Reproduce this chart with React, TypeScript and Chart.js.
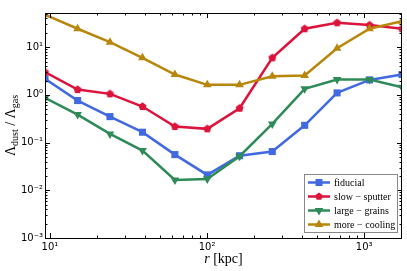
import React, { useEffect, useRef } from 'react';
import { Chart, registerables } from 'chart.js';

Chart.register(...registerables);

// ---- data ----
const radii = [9.3, 15.0, 24.1, 38.8, 62.4, 100.3, 161, 260, 418, 672, 1081, 1740];
const fiducial = [2.17, 0.76, 0.35, 0.165, 0.056, 0.021, 0.053, 0.065, 0.23, 1.1, 2.06, 2.67];
const slowSputter = [2.99, 1.29, 1.05, 0.57, 0.217, 0.194, 0.525, 5.97, 24.3, 32.4, 29.0, 24.3];
const largeGrains = [0.865, 0.386, 0.152, 0.068, 0.0165, 0.0173, 0.0517, 0.246, 1.34, 2.1, 2.1, 1.45];
const moreCooling = [48, 24.3, 12.7, 5.97, 2.67, 1.62, 1.62, 2.46, 2.55, 9.5, 24.3, 35.1];
const seriesNames = ['fiducial', 'slow − sputter', 'large − grains', 'more − cooling'];
const seriesColors = ['#4169E1', '#DC143C', '#2E8B57', '#B8860B'];
const xTickLabels: Record<string, string> = { '1': '10¹', '2': '10²', '3': '10³' };
const yTickLabels: Record<string, string> = { '-3': '10⁻³', '-2': '10⁻²', '-1': '10⁻¹', '0': '10⁰', '1': '10¹' };
const xRange = [radii[0], radii[radii.length - 1]];
const yRange = [0.001, 52];

function makePentagon(color: string, r: number) {
  const c = document.createElement('canvas');
  const s = Math.ceil(r * 2 + 2);
  c.width = s;
  c.height = s;
  const ctx = c.getContext('2d')!;
  ctx.beginPath();
  for (let i = 0; i < 5; i++) {
    const a = -Math.PI / 2 + (i * 2 * Math.PI) / 5;
    const px = s / 2 + r * Math.cos(a);
    const py = s / 2 + r * Math.sin(a);
    if (i === 0) ctx.moveTo(px, py);
    else ctx.lineTo(px, py);
  }
  ctx.closePath();
  ctx.fillStyle = color;
  ctx.fill();
  return c;
}

function isPow10(v: number) {
  const l = Math.log10(v);
  return Math.abs(l - Math.round(l)) < 1e-6;
}

function drawMarker(ctx: CanvasRenderingContext2D, kind: number, x: number, y: number, color: string) {
  ctx.fillStyle = color;
  ctx.beginPath();
  if (kind === 0) {
    ctx.rect(x - 3.5, y - 3.5, 7, 7);
  } else if (kind === 1) {
    for (let i = 0; i < 5; i++) {
      const a = -Math.PI / 2 + (i * 2 * Math.PI) / 5;
      const px = x + 4 * Math.cos(a);
      const py = y + 4 * Math.sin(a);
      if (i === 0) ctx.moveTo(px, py);
      else ctx.lineTo(px, py);
    }
  } else if (kind === 2) {
    ctx.moveTo(x - 4.3, y - 2.5);
    ctx.lineTo(x + 4.3, y - 2.5);
    ctx.lineTo(x, y + 5);
  } else {
    ctx.moveTo(x - 4.3, y + 2.5);
    ctx.lineTo(x + 4.3, y + 2.5);
    ctx.lineTo(x, y - 5);
  }
  ctx.closePath();
  ctx.fill();
}

const framePlugin = {
  id: 'framePlugin',
  afterDraw(chart: any) {
    const { ctx, chartArea } = chart;
    const { left, right, top, bottom } = chartArea;
    const xs = chart.scales.x;
    const ys = chart.scales.y;
    ctx.save();
    ctx.strokeStyle = '#000';
    ctx.lineWidth = 1;
    // ticks
    const tickVals = (min: number, max: number) => {
      const out: { v: number; major: boolean }[] = [];
      for (let d = Math.floor(Math.log10(min)); d <= Math.ceil(Math.log10(max)); d++) {
        for (let m = 1; m <= 9; m++) {
          const v = m * Math.pow(10, d);
          if (v >= min * 0.9999 && v <= max * 1.0001) out.push({ v, major: m === 1 });
        }
      }
      return out;
    };
    ctx.beginPath();
    for (const t of tickVals(xs.min, xs.max)) {
      const px = Math.round(xs.getPixelForValue(t.v)) + 0.5;
      const L = t.major ? 5 : 2.5;
      ctx.moveTo(px, bottom);
      ctx.lineTo(px, bottom - L);
      ctx.moveTo(px, top);
      ctx.lineTo(px, top + L);
    }
    for (const t of tickVals(ys.min, ys.max)) {
      const py = Math.round(ys.getPixelForValue(t.v)) + 0.5;
      const L = t.major ? 5 : 2.5;
      ctx.moveTo(left, py);
      ctx.lineTo(left + L, py);
      ctx.moveTo(right, py);
      ctx.lineTo(right - L, py);
    }
    ctx.stroke();
    ctx.strokeRect(Math.round(left) + 0.5, Math.round(top) + 0.5, Math.round(right - left) - 1, Math.round(bottom - top));

    // x title
    ctx.fillStyle = '#000';
    ctx.textBaseline = 'alphabetic';
    const xMain = '14px "Liberation Serif"';
    ctx.font = 'italic ' + xMain;
    const wr = ctx.measureText('r').width;
    ctx.font = xMain;
    const rest = ' [kpc]';
    const wrest = ctx.measureText(rest).width;
    const cx = (left + right) / 2;
    const bx = cx - (wr + wrest) / 2;
    ctx.font = 'italic ' + xMain;
    ctx.fillText('r', bx, 263);
    ctx.font = xMain;
    ctx.fillText(rest, bx + wr, 263);

    // y title with subscripts
    const parts = [
      { t: 'Λ', f: '14px "Liberation Serif"', dy: 0 },
      { t: 'dust', f: '10px "Liberation Serif"', dy: 3 },
      { t: ' / ', f: '14px "Liberation Serif"', dy: 0 },
      { t: 'Λ', f: '14px "Liberation Serif"', dy: 0 },
      { t: 'gas', f: '10px "Liberation Serif"', dy: 3 },
    ];
    let total = 0;
    const widths = parts.map((p) => {
      ctx.font = p.f;
      const w = ctx.measureText(p.t).width;
      total += w;
      return w;
    });
    ctx.translate(15, (top + bottom) / 2);
    ctx.rotate(-Math.PI / 2);
    let px = -total / 2;
    parts.forEach((p, i) => {
      ctx.font = p.f;
      ctx.fillText(p.t, px, p.dy);
      px += widths[i];
    });
    ctx.restore();

    // legend
    ctx.save();
    const lx = 304, ly = 174, lw = 93, lh = 58;
    ctx.fillStyle = '#fff';
    ctx.fillRect(lx, ly, lw, lh);
    ctx.strokeStyle = '#888';
    ctx.lineWidth = 1;
    ctx.strokeRect(lx + 0.5, ly + 0.5, lw, lh);
    ctx.font = '10px "Liberation Serif"';
    ctx.textBaseline = 'middle';
    seriesNames.forEach((name, i) => {
      const yy = ly + 8.5 + i * 14;
      ctx.strokeStyle = seriesColors[i];
      ctx.lineWidth = 2.5;
      ctx.beginPath();
      ctx.moveTo(lx + 4, yy);
      ctx.lineTo(lx + 26, yy);
      ctx.stroke();
      drawMarker(ctx, i, lx + 15, yy, seriesColors[i]);
      ctx.fillStyle = '#000';
      ctx.fillText(name, lx + 30, yy + 0.5);
    });
    ctx.restore();
  },
};

export default function App() {
  const ref = useRef<HTMLCanvasElement>(null);
  useEffect(() => {
    document.body.style.margin = '0';
    const pent = makePentagon(seriesColors[1], 4.2);
    const mk = (vals: number[]) => radii.map((r, i) => ({ x: r, y: vals[i] }));
    const allVals = [fiducial, slowSputter, largeGrains, moreCooling];
    const styles: any[] = ['rect', pent, 'triangle', 'triangle'];
    const rots = [0, 0, 180, 0];
    const radiiPt = [5, 4, 5, 5];
    const chart = new Chart(ref.current!, {
      type: 'line',
      data: {
        datasets: allVals.map((vals, i) => ({
          label: seriesNames[i],
          data: mk(vals),
          borderColor: seriesColors[i],
          backgroundColor: seriesColors[i],
          borderWidth: 2.5,
          pointStyle: styles[i],
          pointRotation: rots[i],
          pointRadius: radiiPt[i],
          pointBorderWidth: 0,
          pointBackgroundColor: seriesColors[i],
          pointBorderColor: seriesColors[i],
          tension: 0,
          clip: 0,
          order: 4 - i,
        })),
      },
      options: {
        animation: false,
        responsive: false,
        devicePixelRatio: 1,
        layout: { padding: { left: 0, top: 13, right: 4, bottom: 0 } },
        plugins: { legend: { display: false }, tooltip: { enabled: false } },
        scales: {
          x: {
            type: 'logarithmic',
            min: xRange[0],
            max: xRange[1],
            grid: { display: false, drawTicks: false },
            border: { display: false },
            afterFit: (s: any) => {
              s.height = 33;
            },
            ticks: {
              autoSkip: false,
              maxRotation: 0,
              padding: 3,
              color: '#000',
              font: { family: 'DejaVu Sans', size: 10 },
              callback: (v: any) => {
                const n = Number(v);
                if (!isPow10(n)) return '';
                return xTickLabels[String(Math.round(Math.log10(n)))] || '';
              },
            },
          },
          y: {
            type: 'logarithmic',
            min: yRange[0],
            max: yRange[1],
            grid: { display: false, drawTicks: false },
            border: { display: false },
            afterFit: (s: any) => {
              s.width = 45;
            },
            ticks: {
              autoSkip: false,
              padding: 2,
              color: '#000',
              font: { family: 'DejaVu Sans', size: 10 },
              callback: (v: any) => {
                const n = Number(v);
                if (!isPow10(n)) return '';
                return yTickLabels[String(Math.round(Math.log10(n)))] || '';
              },
            },
          },
        },
      },
      plugins: [framePlugin],
    });
    return () => chart.destroy();
  }, []);
  return (
    <div style={{ position: 'absolute', left: 0, top: 0, width: 407, height: 271, background: '#fff' }}>
      <canvas ref={ref} width={407} height={271} style={{ width: 407, height: 271 }} />
    </div>
  );
}
